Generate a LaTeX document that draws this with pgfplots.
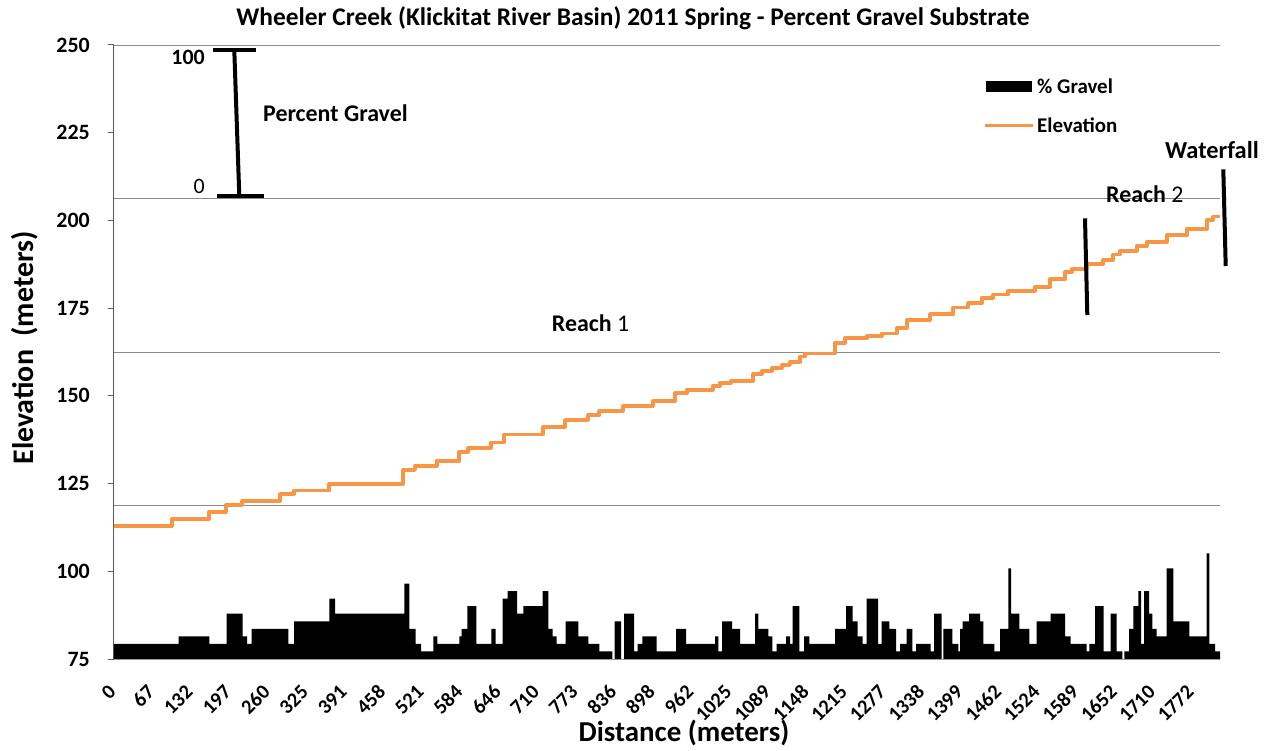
\documentclass[border=0pt]{standalone}
\usepackage{fontspec}
\setmainfont{Carlito}
\usepackage{pgfplots}
\pgfplotsset{compat=1.18}
\usepackage{pgfplotstable}
\definecolor{elev}{HTML}{F79646}
\definecolor{gridc}{HTML}{8A8A8A}

% percent gravel, step profile (x = position along axis, p = percent)
\pgfplotstableread{
x p
0 10
64.7 15
95.3 10
112.7 30
128.7 15
133 10
137.7 20
174.3 10
180 25
215.3 40
221 30
290.3 50
295.3 20
301.7 10
307 5
319.3 15
323.3 10
345.3 15
347.7 20
353.3 35
362.3 10
377.3 20
381.7 10
388.7 40
393.7 45
403 30
409.3 35
428.7 45
434.3 20
438.7 15
442.7 10
451.7 25
464.3 15
474.3 10
485.3 5
498.3 0
500.7 25
507 0
510 30
520 5
523.7 10
528.3 15
542.7 5
562 20
572 10
601 15
604.3 5
608 25
618 20
626 10
641 30
644.3 20
654.3 15
658.3 5
662.7 10
672 15
676 10
678.7 35
685.3 5
690 15
695.3 10
721 20
732 35
738.7 25
743.7 15
748.7 10
752.7 40
764 10
767.7 25
775.3 20
782 5
786 10
792.7 20
798.3 5
802 10
816.7 5
820 30
827.5 0
829.3 20
838.3 10
844.3 5
846 20
848.7 25
855 30
866 25
869.3 10
880.3 5
886 20
894.3 60
897 30
905.3 20
915.3 10
922.7 25
936.7 30
951 15
956.7 10
972.7 5
975.3 10
981 35
989.7 5
996.7 30
1002.7 5
1008.3 0
1010.3 5
1015 20
1019.3 35
1024.3 45
1027 10
1030 45
1035 30
1038.3 20
1042.7 15
1052.7 60
1059.3 25
1075.3 15
1092.7 70
1095.3 10
1101 5
1106 5
}\gravel

% elevation (m)
\pgfplotstableread{
x e
0 112.9
57.7 114.9
95.3 117.0
112 118.9
127.7 120.0
166 122.0
180 123.0
215.3 124.9
289.3 128.9
301 130.1
322.7 131.4
345.3 134.1
354.3 135.1
376.7 136.7
390 139.0
428.7 141.2
451 143.1
474.3 144.5
485.3 145.7
509.3 147.1
538.7 148.5
561 150.7
572.7 151.7
598.7 152.8
606 153.6
616.7 154.3
639.3 156.2
647.7 157.0
657.7 157.9
667.7 158.8
676 159.7
686 161.2
691 162.1
721 165.0
731 166.4
752.7 167.1
767.7 167.8
782.7 169.3
792.7 171.6
816 173.3
839.3 175.2
854.3 176.4
867.7 178.0
879.3 178.9
894.3 179.9
921 181.1
936 183.2
951 185.2
957.7 186.2
972.7 187.5
989.3 188.7
999.3 190.3
1006 191.3
1022.7 192.7
1032.7 193.9
1052.7 195.8
1072.7 197.5
1092.7 200.1
1099.3 201.1
1106 201.1
}\elev

\begin{document}
\begin{tikzpicture}
\path[use as bounding box] (-114bp,-92bp) rectangle (1155bp,659bp);
\begin{axis}[
    at={(0,0)}, anchor=south west,
    scale only axis,
    width=1106bp, height=614bp,
    xmin=0, xmax=1106,
    ymin=75, ymax=250,
    axis lines=left,
    axis line style={-},
    x axis line style={gridc!70},
    y axis line style={black!65, line width=1bp},
    tick align=outside,
    major tick length=6bp,
    ytick={75,100,...,250},
    ytick style={black!65, line width=1bp},
    xtick={0,38.5,...,1079},
    xticklabels={0,67,132,197,260,325,391,458,521,584,646,710,773,836,898,962,1025,1089,1148,1215,1277,1338,1399,1462,1524,1589,1652,1710,1772},
    xtick style={draw=none},
    extra y ticks={118.75,162.5,206.25,250},
    extra y tick labels={},
    extra y tick style={grid=major, major tick length=0pt},
    major grid style={gridc, line width=0.9bp},
    /pgf/number format/assume math mode=true,
    yticklabel style={font=\fontsize{22}{26}\selectfont\bfseries, anchor=east, inner sep=0pt, xshift=-18bp},
    xticklabel style={font=\fontsize{20.5}{24}\selectfont\bfseries, inner sep=0pt, xshift=-1.6bp, yshift=-23.6bp, rotate=45, anchor=east},
]
\addplot[const plot, fill=black, draw=none]
    table[x=x, y expr={75+0.43*\thisrow{p}}] {\gravel} \closedcycle;
\addplot[const plot, elev, line width=3.8bp, line join=round]
    table[x=x, y=e] {\elev};
\end{axis}

% title and axis labels
\node[font=\fontsize{25.5}{30}\selectfont\bfseries] at (519bp,641bp)
    {Wheeler Creek (Klickitat River Basin) 2011 Spring - Percent Gravel Substrate};
\node[font=\fontsize{30}{34}\selectfont\bfseries, rotate=90] at (-89bp,311bp)
    {Elevation~ (meters)};
\node[font=\fontsize{29}{33}\selectfont\bfseries] at (570bp,-74bp)
    {Distance (meters)};

% percent gravel scale bar
\draw[line width=4bp] (99bp,608.7bp) -- (142bp,608.7bp);
\draw[line width=4bp] (103bp,463bp) -- (150bp,463bp);
\draw[line width=4bp] (120.3bp,608.7bp) -- (125.3bp,463bp);
\node[font=\fontsize{22}{26}\selectfont\bfseries, anchor=east, inner sep=0pt] at (91bp,602bp) {100};
\node[font=\fontsize{22}{26}\selectfont, anchor=east, inner sep=0pt] at (91bp,473bp) {0};
\node[font=\fontsize{24}{28}\selectfont\bfseries, anchor=west, inner sep=0pt] at (149bp,545.5bp) {Percent Gravel};

% legend
\fill[black] (872bp,566.7bp) rectangle (918bp,578.3bp);
\node[font=\fontsize{21}{25}\selectfont\bfseries, anchor=west, inner sep=0pt] at (923bp,573bp) {\% Gravel};
\draw[elev, line width=3.5bp] (871bp,533.3bp) -- (919bp,533.3bp);
\node[font=\fontsize{21}{25}\selectfont\bfseries, anchor=west, inner sep=0pt] at (923bp,534bp) {Elevation};

% reach markers
\draw[line width=4bp] (971bp,440.7bp) -- (973.3bp,344bp);
\draw[line width=4bp] (1109.3bp,489.7bp) -- (1111.7bp,393bp);
\node[font=\fontsize{24.5}{28}\selectfont\bfseries, anchor=west, inner sep=0pt] at (1051bp,509bp) {Waterfall};
\node[font=\fontsize{24}{28}\selectfont, anchor=west, inner sep=0pt] at (992bp,464.5bp) {\textbf{Reach} 2};
\node[font=\fontsize{24}{28}\selectfont, anchor=west, inner sep=0pt] at (437.7bp,336bp) {\textbf{Reach} 1};
\end{tikzpicture}
\end{document}
